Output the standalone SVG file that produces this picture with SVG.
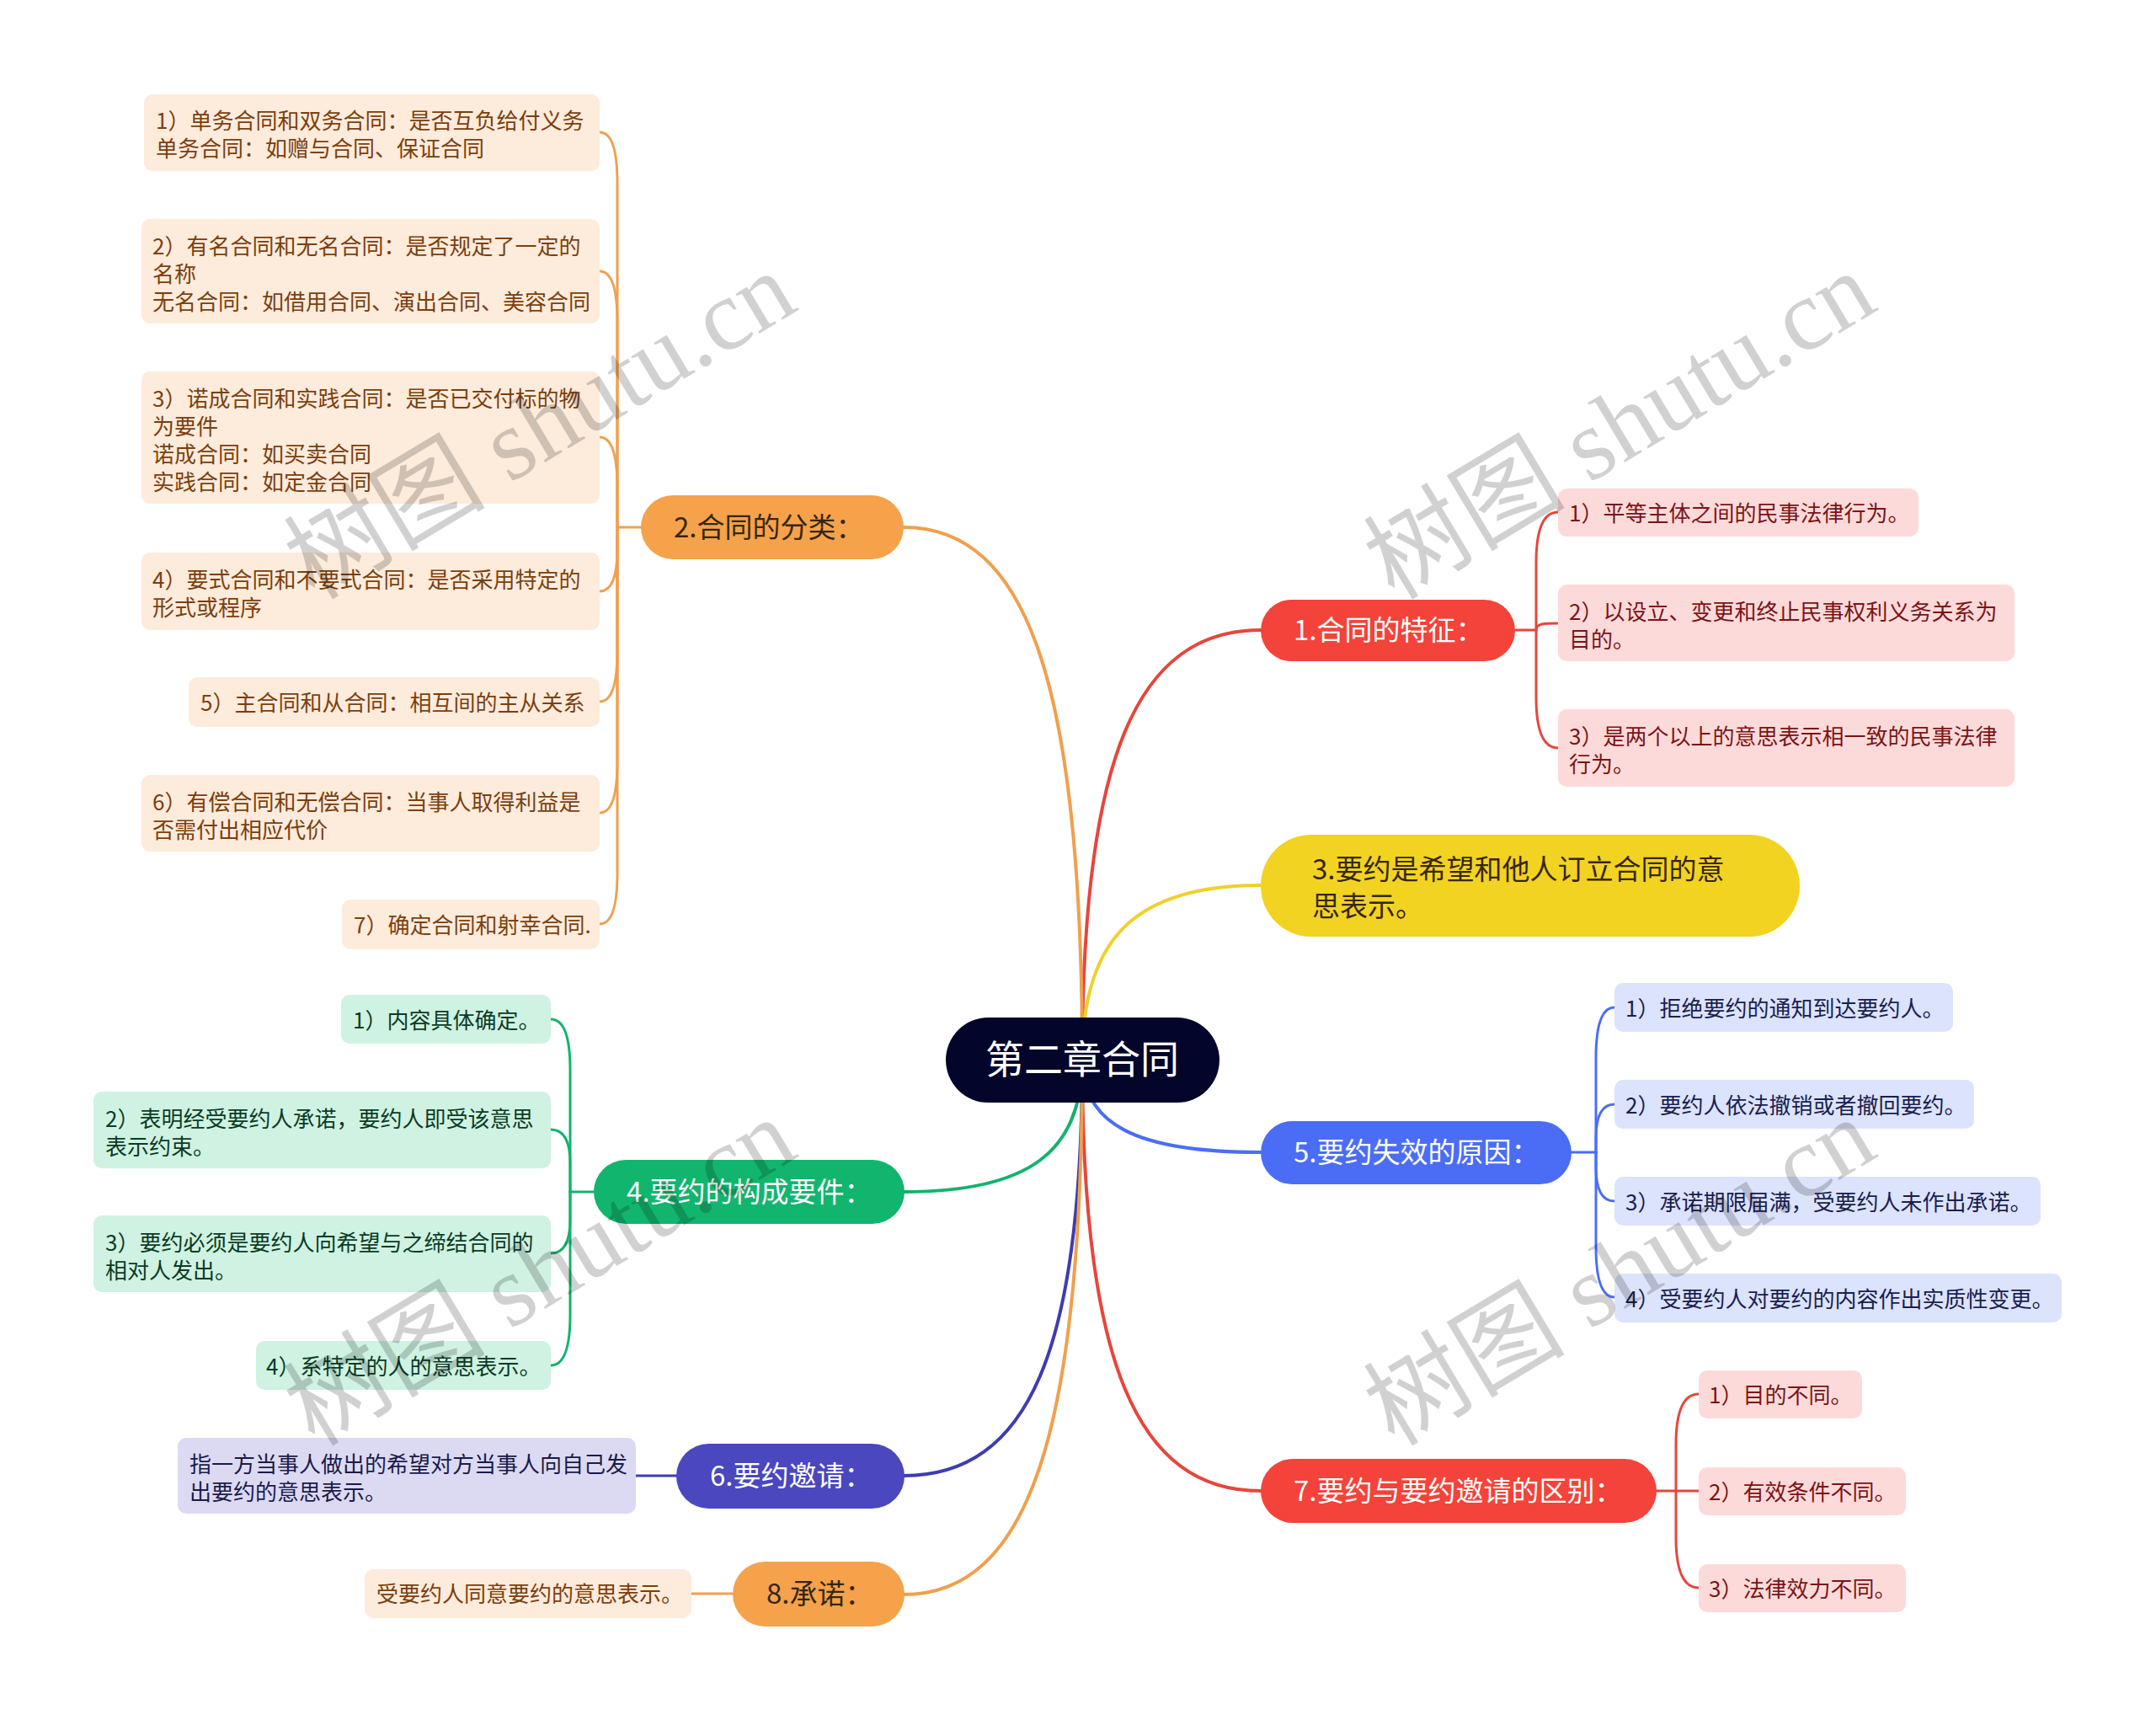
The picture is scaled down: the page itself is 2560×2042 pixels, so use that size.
<svg xmlns="http://www.w3.org/2000/svg" width="2560" height="2042" viewBox="0 0 2560 2042">
<style>
text{font-family:"Noto Sans CJK SC","Liberation Sans",sans-serif;}
.main{font-size:33px;}
.sub{font-size:26px;}
.root{font-size:46px;fill:#ffffff;}
.w{fill:#ffffff;}
.dk{fill:#35260f;}
.or{fill:#F5A24B;}
.orc{fill:#FDEBDC;}
.ort{fill:#7B3F0C;}
.rd{fill:#F4433A;}
.rdc{fill:#FDDADA;}
.rdt{fill:#7A1414;}
.yl{fill:#F2D322;}
.gr{fill:#12B56D;}
.grc{fill:#CFF2E2;}
.grt{fill:#0B3B24;}
.bl{fill:#4B6DF6;}
.blc{fill:#DCE3FC;}
.blt{fill:#18204F;}
.ind{fill:#4A47BF;}
.indc{fill:#DCDAF3;}
.indt{fill:#1B1A4A;}
.c{fill:none;stroke-linecap:round;}
.m{stroke-width:4;}
.s{stroke-width:3;}
.wm{font-family:"Liberation Serif","Noto Sans CJK SC",serif;font-size:120px;fill:#000000;fill-opacity:0.18;}
</style>
<rect width="2560" height="2042" fill="#ffffff"/>
<g id="connectors">
<path class="c m" stroke="#E6463C" d="M1285 1258 C1285 901 1349 748 1497 748"/>
<path class="c m" stroke="#EFA04E" d="M1285 1258 C1285 816 1221 626 1073 626"/>
<path class="c m" stroke="#F0D02A" d="M1285 1258 C1285 1113 1349 1051 1497 1051"/>
<path class="c m" stroke="#12B36C" d="M1285 1258 C1285 1368 1221 1415 1073 1415"/>
<path class="c m" stroke="#4B6DF6" d="M1285 1258 C1285 1335 1349 1368 1497 1368"/>
<path class="c m" stroke="#3F3CB0" d="M1285 1258 C1285 1604 1221 1752 1073 1752"/>
<path class="c m" stroke="#E6463C" d="M1285 1258 C1285 1616 1349 1770 1497 1770"/>
<path class="c m" stroke="#EFA04E" d="M1285 1258 C1285 1702 1221 1893 1073 1893"/>
<g stroke="#EFA04E">
<path class="c s" d="M761 626 H733"/>
<path class="c s" d="M733 626 V217 Q733 157 712 157"/>
<path class="c s" d="M733 626 V382 Q733 322 712 322"/>
<path class="c s" d="M733 626 V579 Q733 519 712 519"/>
<path class="c s" d="M733 626 V652 Q733 702 712 702"/>
<path class="c s" d="M733 626 V773 Q733 833 712 833"/>
<path class="c s" d="M733 626 V905 Q733 965 712 965"/>
<path class="c s" d="M733 626 V1037 Q733 1097 712 1097"/>
<path class="c s" d="M821 1892 H870"/>
</g>
<g stroke="#E6463C">
<path class="c s" d="M1799 748 H1824"/>
<path class="c s" d="M1824 748 V668 Q1824 608 1850 608"/>
<path class="c s" d="M1824 748 C1824 740 1834 740 1850 740"/>
<path class="c s" d="M1824 748 V828 Q1824 888 1850 888"/>
<path class="c s" d="M1967 1770 H1990"/>
<path class="c s" d="M1990 1770 V1715 Q1990 1655 2017 1655"/>
<path class="c s" d="M1990 1770 H2017"/>
<path class="c s" d="M1990 1770 V1825 Q1990 1885 2017 1885"/>
</g>
<g stroke="#4B6DF6">
<path class="c s" d="M1866 1368 H1895"/>
<path class="c s" d="M1895 1368 V1256 Q1895 1196 1917 1196"/>
<path class="c s" d="M1895 1368 V1351 Q1895 1311 1917 1311"/>
<path class="c s" d="M1895 1368 V1386 Q1895 1426 1917 1426"/>
<path class="c s" d="M1895 1368 V1480 Q1895 1540 1917 1540"/>
</g>
<g stroke="#12B36C">
<path class="c s" d="M705 1415 H677"/>
<path class="c s" d="M677 1415 V1270 Q677 1210 654 1210"/>
<path class="c s" d="M677 1415 V1381 Q677 1341 654 1341"/>
<path class="c s" d="M677 1415 V1448 Q677 1488 654 1488"/>
<path class="c s" d="M677 1415 V1561 Q677 1621 654 1621"/>
</g>
<path class="c s" stroke="#3F3CB0" d="M755 1752 H803"/>
</g>

<g id="root">
<rect x="1123" y="1208" width="325" height="101" rx="50.5" fill="#03052A"/>
<text class="root" x="1285" y="1274" text-anchor="middle">第二章合同</text>
</g>

<g id="n2">
<rect class="or" x="761" y="588" width="312" height="76" rx="38"/>
<text class="main dk" x="800" y="638">2.合同的分类：</text>
</g>
<g id="n2c1"><rect class="orc" x="171" y="112" width="541" height="91" rx="10"/>
<text class="sub ort"><tspan x="185" y="153">1）单务合同和双务合同：是否互负给付义务</tspan><tspan x="185" y="186">单务合同：如赠与合同、保证合同</tspan></text></g>
<g id="n2c2"><rect class="orc" x="168" y="260" width="544" height="124" rx="10"/>
<text class="sub ort"><tspan x="181" y="302">2）有名合同和无名合同：是否规定了一定的</tspan><tspan x="181" y="335">名称</tspan><tspan x="181" y="368">无名合同：如借用合同、演出合同、美容合同</tspan></text></g>
<g id="n2c3"><rect class="orc" x="168" y="441" width="544" height="157" rx="10"/>
<text class="sub ort"><tspan x="181" y="483">3）诺成合同和实践合同：是否已交付标的物</tspan><tspan x="181" y="516">为要件</tspan><tspan x="181" y="549">诺成合同：如买卖合同</tspan><tspan x="181" y="582">实践合同：如定金合同</tspan></text></g>
<g id="n2c4"><rect class="orc" x="168" y="656" width="544" height="92" rx="10"/>
<text class="sub ort"><tspan x="181" y="698">4）要式合同和不要式合同：是否采用特定的</tspan><tspan x="181" y="731">形式或程序</tspan></text></g>
<g id="n2c5"><rect class="orc" x="224" y="804" width="488" height="59" rx="10"/>
<text class="sub ort" x="238" y="844">5）主合同和从合同：相互间的主从关系</text></g>
<g id="n2c6"><rect class="orc" x="168" y="920" width="544" height="91" rx="10"/>
<text class="sub ort"><tspan x="181" y="962">6）有偿合同和无偿合同：当事人取得利益是</tspan><tspan x="181" y="995">否需付出相应代价</tspan></text></g>
<g id="n2c7"><rect class="orc" x="406" y="1068" width="306" height="59" rx="10"/>
<text class="sub ort" x="420" y="1108">7）确定合同和射幸合同.</text></g>

<g id="n1">
<rect class="rd" x="1497" y="712" width="302" height="73" rx="36.5"/>
<text class="main w" x="1536" y="760">1.合同的特征：</text>
</g>
<g id="n1c1"><rect class="rdc" x="1850" y="580" width="428" height="57" rx="10"/>
<text class="sub rdt" x="1863" y="619">1）平等主体之间的民事法律行为。</text></g>
<g id="n1c2"><rect class="rdc" x="1850" y="694" width="542" height="91" rx="10"/>
<text class="sub rdt"><tspan x="1863" y="736">2）以设立、变更和终止民事权利义务关系为</tspan><tspan x="1863" y="769">目的。</tspan></text></g>
<g id="n1c3"><rect class="rdc" x="1850" y="842" width="542" height="92" rx="10"/>
<text class="sub rdt"><tspan x="1863" y="884">3）是两个以上的意思表示相一致的民事法律</tspan><tspan x="1863" y="917">行为。</tspan></text></g>

<g id="n3">
<rect class="yl" x="1497" y="991" width="640" height="121" rx="60"/>
<text class="main dk"><tspan x="1558" y="1044">3.要约是希望和他人订立合同的意</tspan><tspan x="1558" y="1088">思表示。</tspan></text>
</g>

<g id="n5">
<rect class="bl" x="1497" y="1331" width="369" height="75" rx="37.5"/>
<text class="main w" x="1536" y="1380">5.要约失效的原因：</text>
</g>
<g id="n5c1"><rect class="blc" x="1917" y="1167" width="402" height="58" rx="10"/>
<text class="sub blt" x="1930" y="1207">1）拒绝要约的通知到达要约人。</text></g>
<g id="n5c2"><rect class="blc" x="1917" y="1282" width="427" height="58" rx="10"/>
<text class="sub blt" x="1930" y="1322">2）要约人依法撤销或者撤回要约。</text></g>
<g id="n5c3"><rect class="blc" x="1917" y="1397" width="506" height="58" rx="10"/>
<text class="sub blt" x="1930" y="1437">3）承诺期限届满，受要约人未作出承诺。</text></g>
<g id="n5c4"><rect class="blc" x="1917" y="1512" width="531" height="58" rx="10"/>
<text class="sub blt" x="1930" y="1552">4）受要约人对要约的内容作出实质性变更。</text></g>

<g id="n7">
<rect class="rd" x="1497" y="1732" width="470" height="76" rx="38"/>
<text class="main w" x="1536" y="1782">7.要约与要约邀请的区别：</text>
</g>
<g id="n7c1"><rect class="rdc" x="2017" y="1627" width="194" height="57" rx="10"/>
<text class="sub rdt" x="2029" y="1666">1）目的不同。</text></g>
<g id="n7c2"><rect class="rdc" x="2017" y="1742" width="246" height="57" rx="10"/>
<text class="sub rdt" x="2029" y="1781">2）有效条件不同。</text></g>
<g id="n7c3"><rect class="rdc" x="2017" y="1857" width="246" height="57" rx="10"/>
<text class="sub rdt" x="2029" y="1896">3）法律效力不同。</text></g>

<g id="n4">
<rect class="gr" x="705" y="1377" width="369" height="76" rx="38"/>
<text class="main w" x="744" y="1427">4.要约的构成要件：</text>
</g>
<g id="n4c1"><rect class="grc" x="405" y="1181" width="249" height="58" rx="10"/>
<text class="sub grt" x="419" y="1221">1）内容具体确定。</text></g>
<g id="n4c2"><rect class="grc" x="111" y="1296" width="543" height="91" rx="10"/>
<text class="sub grt"><tspan x="125" y="1338">2）表明经受要约人承诺，要约人即受该意思</tspan><tspan x="125" y="1371">表示约束。</tspan></text></g>
<g id="n4c3"><rect class="grc" x="111" y="1443" width="543" height="91" rx="10"/>
<text class="sub grt"><tspan x="125" y="1485">3）要约必须是要约人向希望与之缔结合同的</tspan><tspan x="125" y="1518">相对人发出。</tspan></text></g>
<g id="n4c4"><rect class="grc" x="304" y="1592" width="350" height="58" rx="10"/>
<text class="sub grt" x="316" y="1632">4）系特定的人的意思表示。</text></g>

<g id="n6">
<rect class="ind" x="803" y="1714" width="271" height="77" rx="38.5"/>
<text class="main w" x="843" y="1764">6.要约邀请：</text>
</g>
<g id="n6c1"><rect class="indc" x="211" y="1707" width="544" height="90" rx="10"/>
<text class="sub indt"><tspan x="225" y="1748">指一方当事人做出的希望对方当事人向自己发</tspan><tspan x="225" y="1781">出要约的意思表示。</tspan></text></g>

<g id="n8">
<rect class="or" x="870" y="1854" width="204" height="77" rx="38.5"/>
<text class="main dk" x="910" y="1904">8.承诺：</text>
</g>
<g id="n8c1"><rect class="orc" x="433" y="1863" width="388" height="58" rx="10"/>
<text class="sub ort" x="447" y="1902">受要约人同意要约的意思表示。</text></g>

<g id="watermarks">
<text class="wm" text-anchor="middle" transform="translate(662 540) rotate(-31)">树图 shutu.cn</text>
<text class="wm" text-anchor="middle" transform="translate(1944 540) rotate(-31)">树图 shutu.cn</text>
<text class="wm" text-anchor="middle" transform="translate(662 1545) rotate(-31)">树图 shutu.cn</text>
<text class="wm" text-anchor="middle" transform="translate(1944 1545) rotate(-31)">树图 shutu.cn</text>
</g>
</svg>
